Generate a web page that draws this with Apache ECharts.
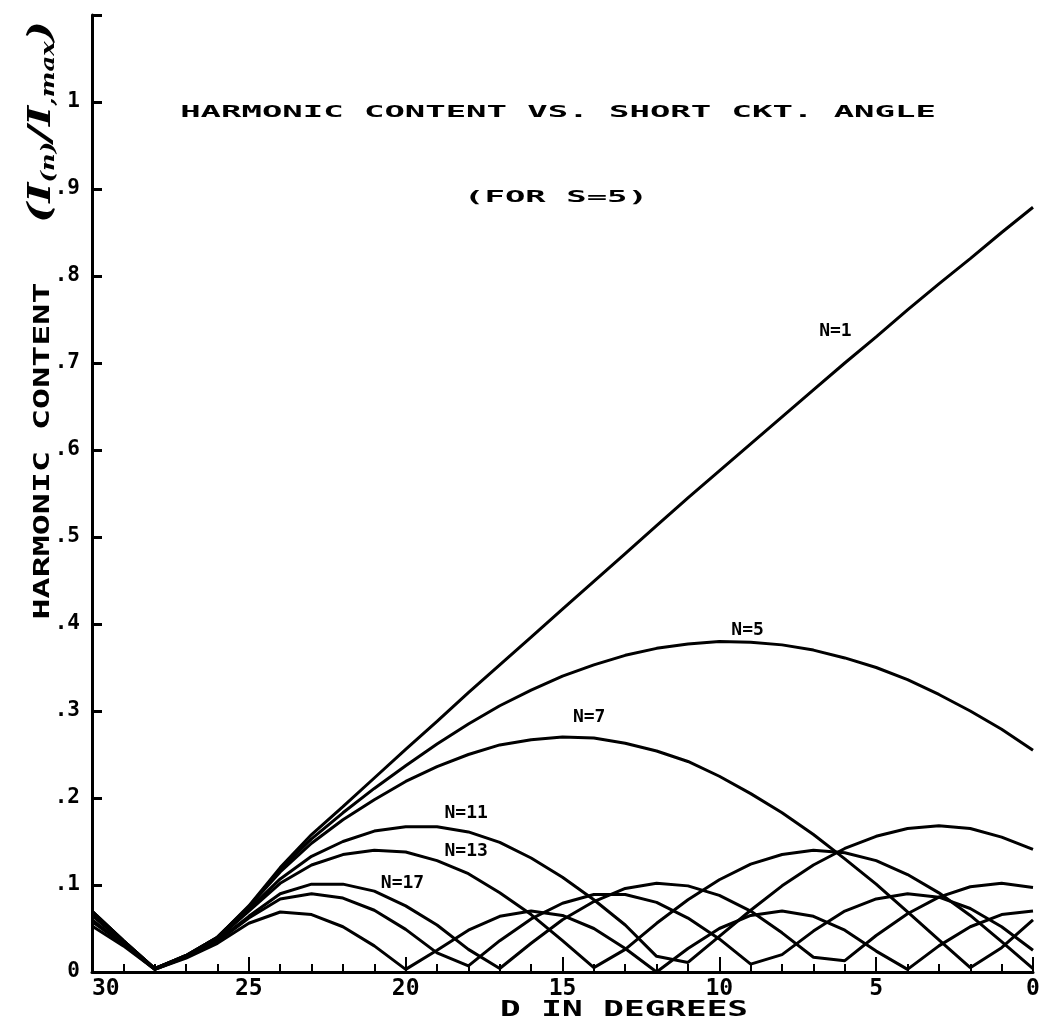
<!DOCTYPE html>
<html>
<head>
<meta charset="utf-8">
<script src="https://cdn.jsdelivr.net/npm/echarts@6/dist/echarts.min.js"></script>
<style>
html,body{margin:0;padding:0;background:#fff;}
#chart{width:1063px;height:1028px;}
</style>
</head>
<body>
<div id="chart"></div>
<script>
// D in degrees (x axis runs from 30 on the left to 0 on the right)
const degrees = [0,1,2,3,4,5,6,7,8,9,10,11,12,13,14,15,16,17,18,19,20,21,22,23,24,25,26,27,28,29,30];

// Harmonic content I(n)/I,max at each degree
const n1  = [0.879,0.850,0.820,0.791,0.761,0.730,0.700,0.669,0.638,0.607,0.576,0.545,0.513,0.481,0.449,0.417,0.385,0.353,0.321,0.288,0.256,0.223,0.190,0.158,0.120,0.076,0.040,0.019,0.004,0.036,0.070];
const n5  = [0.255,0.279,0.300,0.319,0.336,0.350,0.361,0.370,0.376,0.379,0.380,0.377,0.372,0.364,0.353,0.340,0.324,0.306,0.285,0.262,0.237,0.211,0.183,0.153,0.118,0.075,0.040,0.019,0.004,0.036,0.070];
const n7  = [0.060,0.028,0.005,0.037,0.069,0.101,0.130,0.158,0.183,0.205,0.225,0.242,0.254,0.263,0.269,0.270,0.267,0.261,0.250,0.236,0.219,0.198,0.175,0.148,0.115,0.075,0.040,0.019,0.004,0.036,0.069];
const n11 = [0.141,0.155,0.165,0.168,0.165,0.156,0.142,0.123,0.099,0.071,0.041,0.011,0.018,0.054,0.083,0.109,0.131,0.149,0.161,0.167,0.167,0.162,0.150,0.133,0.107,0.072,0.038,0.018,0.004,0.035,0.067];
const n13 = [0.004,0.035,0.065,0.091,0.112,0.128,0.137,0.140,0.135,0.124,0.106,0.083,0.056,0.026,0.005,0.036,0.066,0.091,0.113,0.128,0.138,0.140,0.135,0.123,0.102,0.070,0.038,0.018,0.004,0.034,0.065];
const n17 = [0.097,0.102,0.098,0.086,0.067,0.042,0.013,0.017,0.045,0.070,0.088,0.099,0.102,0.096,0.081,0.060,0.033,0.004,0.026,0.054,0.076,0.093,0.101,0.101,0.090,0.064,0.036,0.017,0.003,0.032,0.060];
const n19 = [0.025,0.052,0.073,0.086,0.090,0.084,0.070,0.047,0.020,0.009,0.038,0.062,0.080,0.089,0.089,0.079,0.061,0.036,0.007,0.022,0.049,0.071,0.085,0.090,0.084,0.062,0.035,0.017,0.003,0.032,0.058];
const n23 = [0.070,0.066,0.052,0.030,0.003,0.024,0.048,0.064,0.070,0.065,0.050,0.027,0.000,0.027,0.050,0.065,0.070,0.064,0.048,0.025,0.003,0.030,0.052,0.066,0.069,0.056,0.033,0.016,0.003,0.030,0.053];

const seriesNames = ['N=1','N=5','N=7','N=11','N=13','N=17','N=19','N=23'];
const seriesValues = [n1,n5,n7,n11,n13,n17,n19,n23];
// curve labels drawn on the plot: [name, D, value]
const curveLabels = [['N=1',6.3,0.736],['N=5',9.1,0.393],['N=7',14.15,0.293],['N=11',18.07,0.182],['N=13',18.07,0.139],['N=17',20.1,0.102]];

const xTickLabels = {0:'0',5:'5',10:'10',15:'15',20:'20',25:'25',30:'30'};

const MONO = '"DejaVu Sans Mono", monospace';

const series = seriesNames.map(function(name, i){
  const vals = seriesValues[i];
  const s = {
    name: name,
    type: 'line',
    data: degrees.map(function(d, j){ return [d, vals[j]]; }),
    showSymbol: false,
    symbol: 'none',
    smooth: false,
    lineStyle: {color:'#000', width:3},
    itemStyle: {color:'#000'},
    emphasis: {disabled:true},
    silent: true,
    z: 3
  };
  const lab = curveLabels.filter(function(l){ return l[0] === name; });
  if (lab.length) {
    s.markPoint = {
      symbol: 'circle', symbolSize: 1,
      itemStyle: {color:'rgba(0,0,0,0)'},
      silent: true,
      label: {show:true, position:'inside', formatter: lab[0][0], color:'#000',
              fontFamily: MONO, fontWeight:'bold', fontSize:18},
      data: [{coord:[lab[0][1], lab[0][2]]}]
    };
  }
  return s;
});

const chart = echarts.init(document.getElementById('chart'), null, {renderer:'canvas'});
chart.setOption({
  animation: false,
  backgroundColor: '#fff',
  grid: {left:92, right:30, top:15, bottom:56},
  xAxis: {
    type:'value', min:0, max:30, interval:5, inverse:true,
    axisLine:{show:true, onZero:false, lineStyle:{color:'#000', width:3}},
    axisTick:{show:true, inside:true, length:15, lineStyle:{color:'#000', width:2}},
    minorTick:{show:true, splitNumber:5, length:8, lineStyle:{color:'#000', width:2}},
    splitLine:{show:false}, minorSplitLine:{show:false},
    axisLabel:{color:'#000', fontFamily:MONO, fontWeight:'bold', fontSize:23, margin:6,
      alignMaxLabel:'left',
      formatter:function(v){ return xTickLabels[v] !== undefined ? xTickLabels[v] : ''; }}
  },
  yAxis: {
    type:'value', min:0, max:1.1, interval:0.1,
    axisLine:{show:true, onZero:false, lineStyle:{color:'#000', width:3}},
    axisTick:{show:true, inside:true, length:10, lineStyle:{color:'#000', width:3}},
    splitLine:{show:false},
    axisLabel:{color:'#000', fontFamily:MONO, fontWeight:'bold', fontSize:21, margin:12,
      formatter:function(v){
        if (v < 1e-9) return '0';
        if (Math.abs(v-1) < 1e-6) return '1';
        if (v > 1.05) return '';
        return '.' + Math.round(v*10);
      }}
  },
  series: series,
  graphic: [
    {type:'text', x:558, y:113, scaleX:2.12, silent:true,
     style:{text:'HARMONIC CONTENT VS. SHORT CKT. ANGLE', fill:'#000', font:'bold 16px ' + MONO, textAlign:'center', textVerticalAlign:'middle'}},
    {type:'text', x:556, y:198, scaleX:2.12, silent:true,
     style:{text:'(FOR S=5)', fill:'#000', font:'bold 16px ' + MONO, textAlign:'center', textVerticalAlign:'middle'}},
    {type:'text', x:43, y:451, rotation:Math.PI/2, scaleX:1.59, silent:true,
     style:{text:'HARMONIC CONTENT', fill:'#000', font:'bold 22px ' + MONO, textAlign:'center', textVerticalAlign:'middle'}},
    {type:'text', x:42, y:122, rotation:Math.PI/2, scaleX:1.35, silent:true,
     style:{text:'{a|(I}{b|(n)}{a|/I}{b|,max}{a|)}', textAlign:'center', textVerticalAlign:'middle',
       rich:{a:{fill:'#000', fontFamily:'"DejaVu Serif", serif', fontStyle:'italic', fontWeight:'bold', fontSize:32},
             b:{fill:'#000', fontFamily:'"DejaVu Serif", serif', fontStyle:'italic', fontWeight:'bold', fontSize:18, padding:[14,0,0,0]}}}},
    {type:'text', x:624, y:1010, scaleX:1.56, silent:true,
     style:{text:'D IN DEGREES', fill:'#000', font:'bold 22px ' + MONO, textAlign:'center', textVerticalAlign:'middle'}}
  ]
});
</script>
</body>
</html>
